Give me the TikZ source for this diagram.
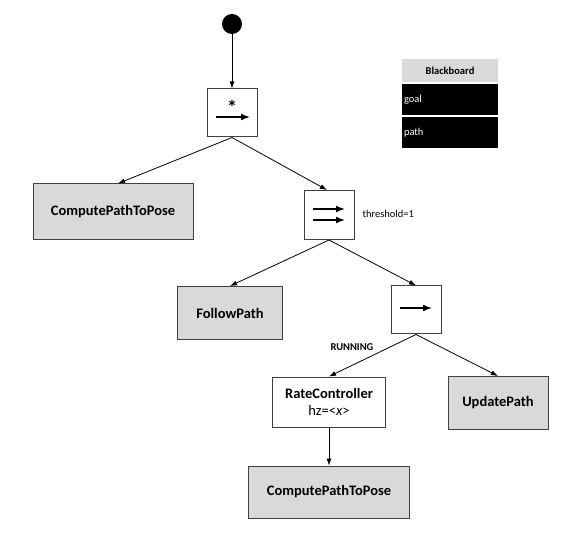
\documentclass[tikz,border=0pt]{standalone}
\usepackage{fontspec}
\setmainfont{Carlito}
\usetikzlibrary{arrows.meta}
\definecolor{boxgray}{HTML}{D9D9D9}
\definecolor{edgegray}{HTML}{404040}
\tikzset{
  ctrlbox/.style={draw=edgegray, line width=1pt, fill=white, minimum width=50pt, minimum height=48pt, inner sep=0pt},
  leafbox/.style={draw=edgegray, line width=1pt, fill=boxgray, inner sep=0pt, font=\fontsize{14.5}{16}\selectfont\bfseries},
  decbox/.style={draw=edgegray, line width=1pt, fill=white, inner sep=0pt, align=center, font=\fontsize{14.5}{17}\selectfont},
  conn/.style={draw=black, line width=0.8pt, -{Latex[length=7pt,width=5pt]}},
  glyph/.style={draw=black, line width=1.5pt, -{Latex[length=9pt,width=7pt]}},
  bbhead/.style={fill=boxgray, minimum width=96pt, minimum height=23pt, inner sep=0pt, font=\fontsize{10.5}{12}\selectfont\bfseries},
  bbrow/.style={fill=black, text=white, minimum width=96pt, minimum height=31pt, inner sep=2pt, text width=92pt, align=left, font=\fontsize{10.5}{12}\selectfont},
}
\begin{document}
\begin{tikzpicture}[x=1pt,y=-1pt]
\useasboundingbox[fill=white] (0,0) rectangle (581,537);

% start
\node[circle, fill=black, minimum size=20pt, inner sep=0pt] (start) at (232,24) {};

% control boxes
\node[ctrlbox] (seq) at (232,113) {};
\node[font=\fontsize{20}{20}\selectfont\bfseries] (star) at (232,107) {*};
\draw[glyph] (216,117) -- (250,117);

\node[ctrlbox, minimum height=49pt] (par) at (329,215) {};
\draw[glyph] (313,209) -- (345,209);
\draw[glyph] (313,220) -- (345,220);
\node[anchor=west, font=\fontsize{10.5}{12}\selectfont] (thr) at (359,214) {threshold=1};

\node[ctrlbox] (seq2) at (416,310) {};
\draw[glyph] (400,308) -- (432,308);

% leaves
\node[leafbox, minimum width=160pt, minimum height=56pt] (cp1) at (113,212) {ComputePathToPose};
\node[leafbox, minimum width=105pt, minimum height=53pt] (fp) at (230,313) {FollowPath};
\node[decbox, minimum width=113pt, minimum height=50pt] (rc) at (329,402) {\textbf{RateController}\\hz=\textless\textit{x}\textgreater};
\node[leafbox, minimum width=100pt, minimum height=53pt] (up) at (498,403) {UpdatePath};
\node[leafbox, minimum width=161pt, minimum height=52pt] (cp2) at (329,492) {ComputePathToPose};

\node[font=\fontsize{10.5}{12}\selectfont\bfseries] (run) at (352,347) {RUNNING};

% connectors
\draw[conn] (start) -- (seq.north);
\draw[conn] (seq.south) -- ([xshift=5pt]cp1.north);
\draw[conn] (seq.south) -- ([xshift=-2pt]par.north);
\draw[conn] (par.south) -- (fp.north);
\draw[conn] (par.south) -- (seq2.north);
\draw[conn] (seq2.south) -- (rc.north);
\draw[conn] (seq2.south) -- (up.north);
\draw[conn] (rc.south) -- (cp2.north);

% blackboard
\node[bbhead] (bbh) at (450,71) {Blackboard};
\node[bbrow] (bbg) at (450,100) {goal};
\node[bbrow] (bbp) at (450,133) {path};
\end{tikzpicture}
\end{document}
